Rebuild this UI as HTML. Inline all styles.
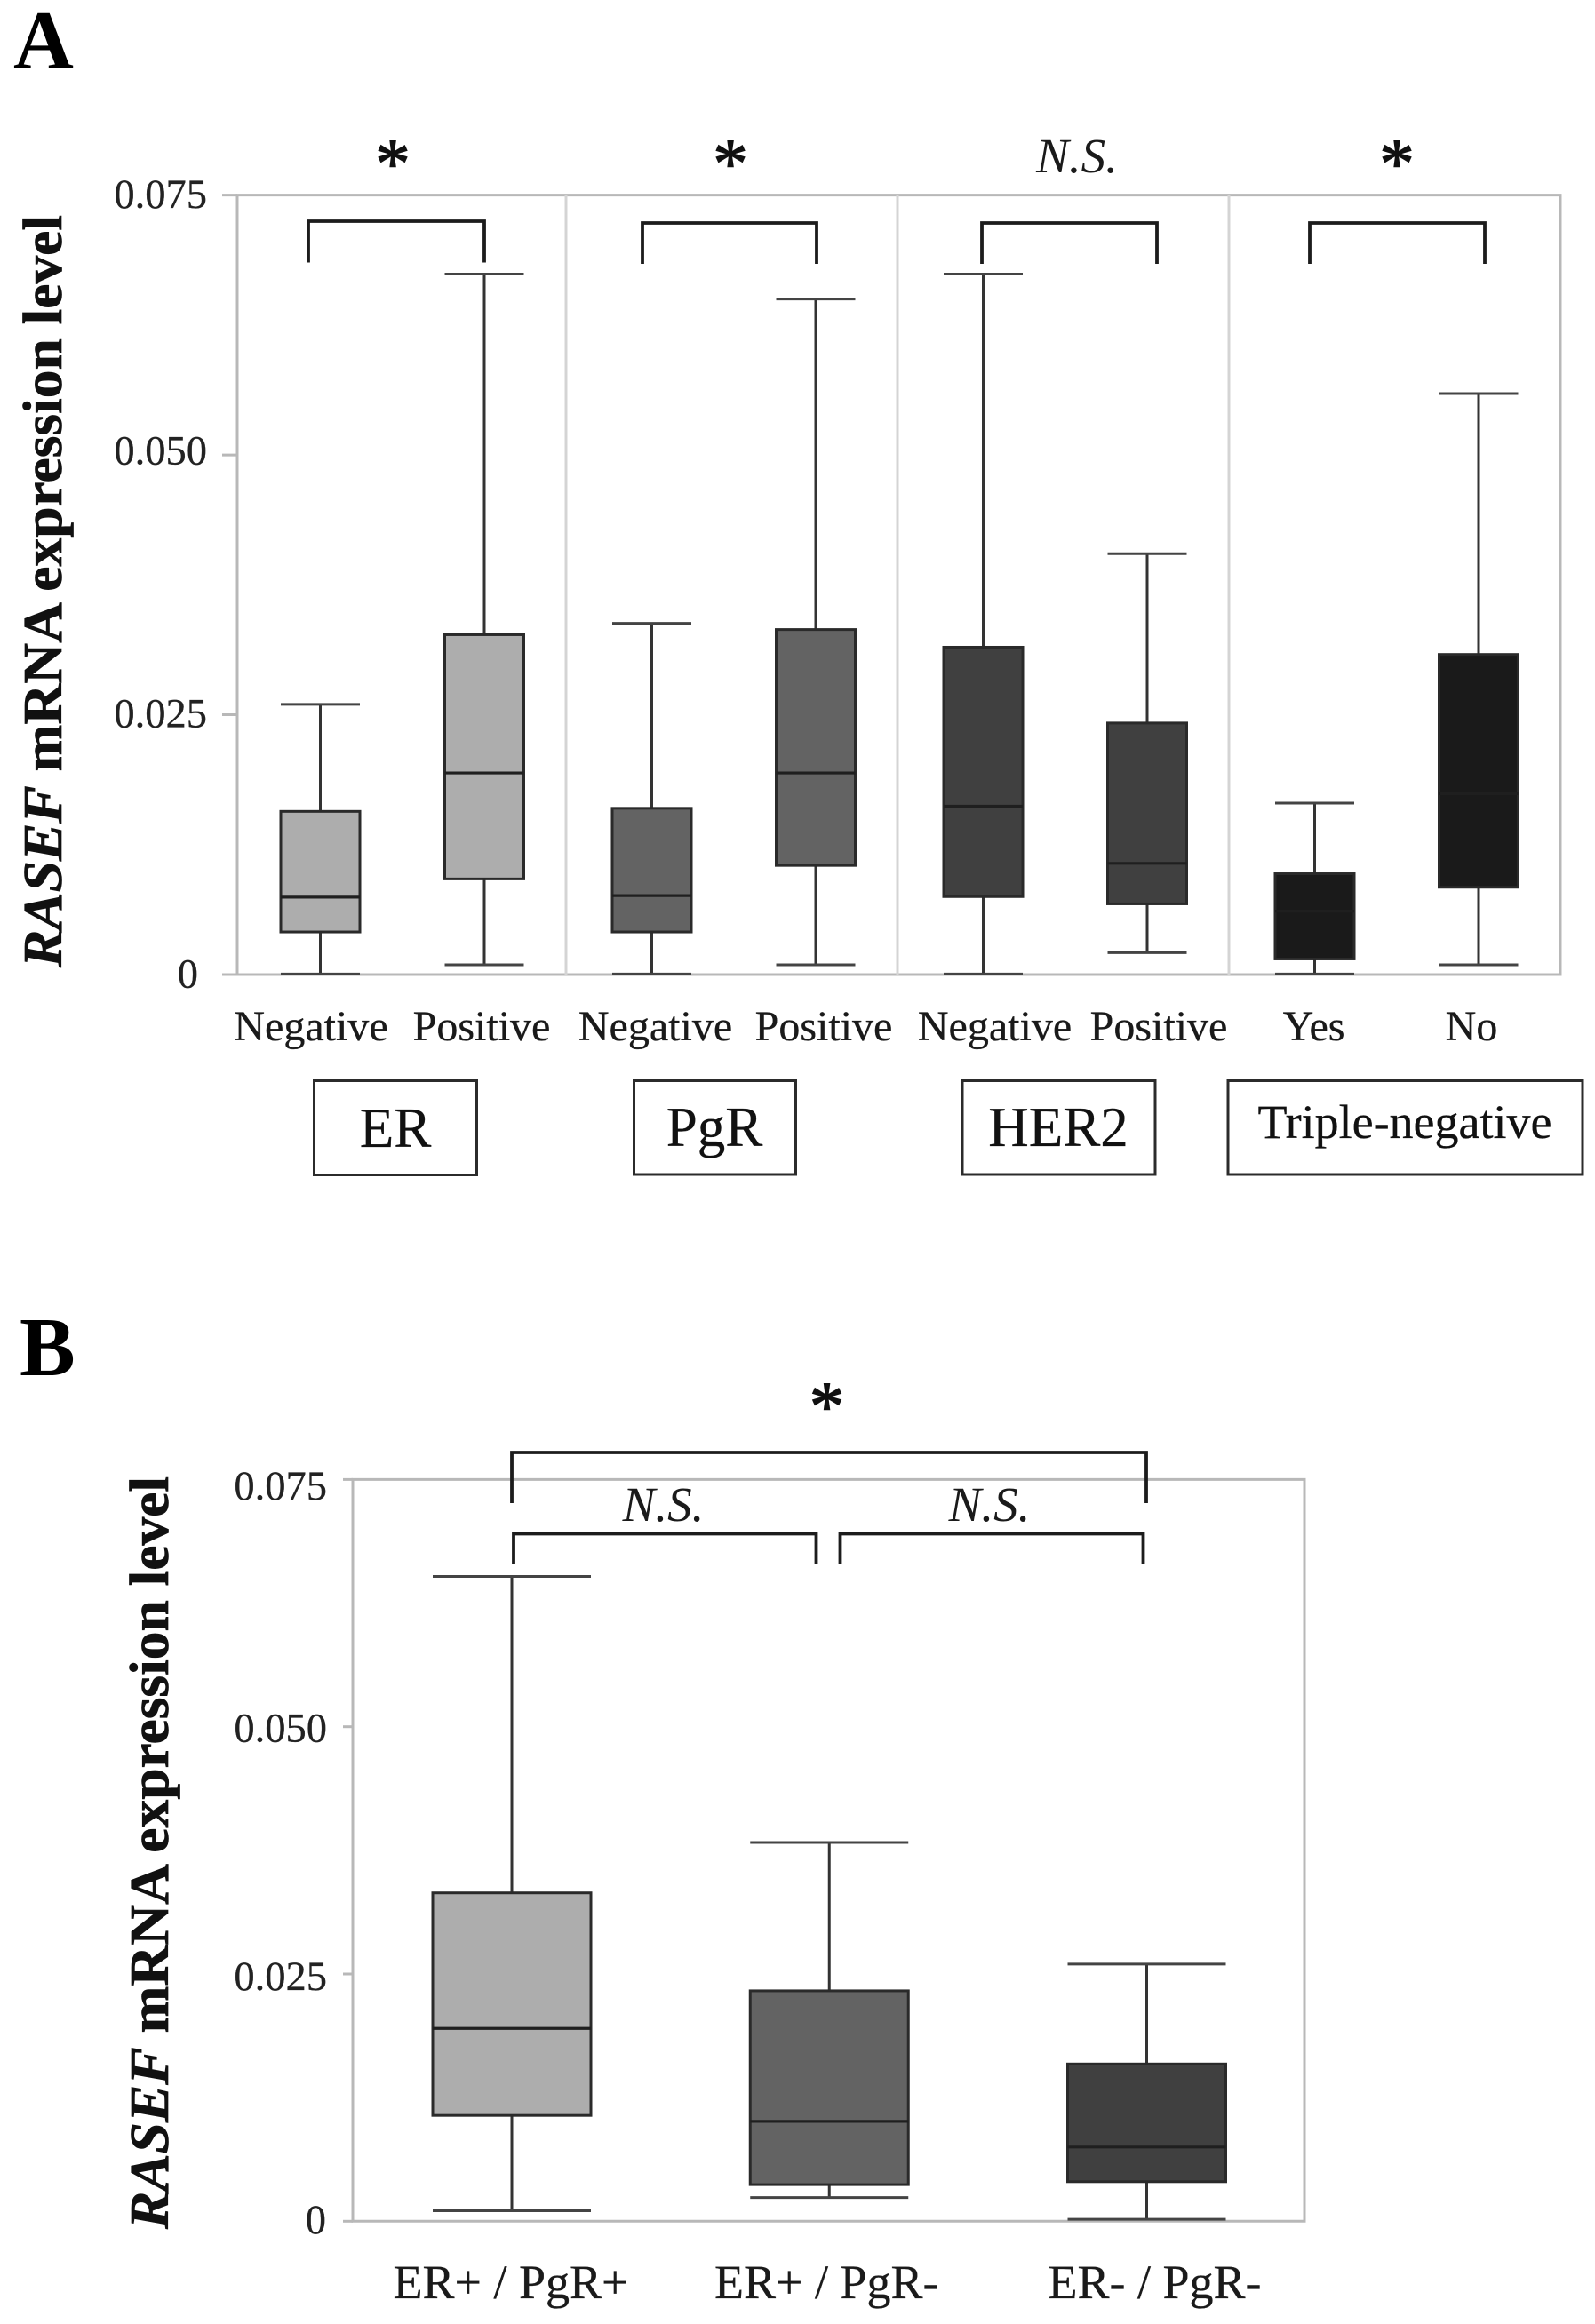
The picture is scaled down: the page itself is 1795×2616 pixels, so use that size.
<!DOCTYPE html>
<html lang="en">
<head>
<meta charset="utf-8">
<title>RASEF mRNA expression level box plots</title>
<style>
html,body{margin:0;padding:0;background:#fff;}
svg{display:block;}
text{font-family:"Liberation Serif",serif;fill:#151515;}
.tick{font-size:46.5px;fill:#222;stroke:#222;stroke-width:.25;}
.cat{font-size:48px;fill:#1a1a1a;text-anchor:middle;stroke:#1a1a1a;stroke-width:.3;}
.catb{font-size:54px;fill:#1a1a1a;text-anchor:middle;stroke:#1a1a1a;stroke-width:.3;}
.ylab{font-size:62.5px;font-weight:bold;fill:#111;stroke:#111;stroke-width:.7;}
.letter{font-size:94px;font-weight:bold;fill:#000;}
.ast{font-size:78px;text-anchor:middle;fill:#111;stroke:#111;stroke-width:1.4;}
.ns{font-size:55px;font-style:italic;text-anchor:middle;fill:#1a1a1a;}
.brk{fill:none;stroke:#1c1c1c;stroke-width:3.8;}
.grp{fill:#fff;stroke:#2b2b2b;stroke-width:3;}
.grpt{text-anchor:middle;fill:#111;stroke:#111;stroke-width:.3;}
</style>
</head>
<body>
<svg id="fig" xmlns="http://www.w3.org/2000/svg" width="1795" height="2616" viewBox="0 0 1795 2616">
  <rect x="0" y="0" width="1795" height="2616" fill="#ffffff"/>

  <text class="letter" x="15" y="77">A</text>
  <text class="letter" x="22" y="1548">B</text>

  <text class="ylab" transform="translate(69,1089) rotate(-90)" textLength="847" lengthAdjust="spacingAndGlyphs"><tspan font-style="italic">RASEF</tspan> mRNA expression level</text>
  <text class="ylab" transform="translate(189,2509) rotate(-90)" textLength="847" lengthAdjust="spacingAndGlyphs"><tspan font-style="italic">RASEF</tspan> mRNA expression level</text>

  <g id="panelA"></g>
  <g id="panelB"></g>

  <!-- Panel A significance annotations -->
  <text class="ast" x="442" y="210">*</text>
  <text class="ast" x="822" y="210">*</text>
  <text class="ns" x="1212" y="194">N.S.</text>
  <text class="ast" x="1572" y="210">*</text>
  <path class="brk" d="M347 295.5V249H545V295.5"/>
  <path class="brk" d="M723 297V251H919V297"/>
  <path class="brk" d="M1105 297V251H1302V297"/>
  <path class="brk" d="M1474 297V251H1671V297"/>

  <!-- Panel A group boxes -->
  <g>
    <rect class="grp" x="353.5" y="1216.5" width="183" height="106"/>
    <text class="grpt" x="445" y="1291" font-size="63">ER</text>
  </g>
  <g>
    <rect class="grp" x="713.5" y="1216.5" width="182" height="105.5"/>
    <text class="grpt" x="804" y="1290" font-size="63">PgR</text>
  </g>
  <g>
    <rect class="grp" x="1083" y="1216.5" width="217" height="105.5"/>
    <text class="grpt" x="1191" y="1290" font-size="63">HER2</text>
  </g>
  <g>
    <rect class="grp" x="1382" y="1216.5" width="399" height="105.5"/>
    <text class="grpt" x="1581" y="1281" font-size="54">Triple-negative</text>
  </g>

  <!-- Panel B significance annotations -->
  <text class="ast" x="930.5" y="1609">*</text>
  <text class="ns" x="746.5" y="1712">N.S.</text>
  <text class="ns" x="1113.5" y="1712">N.S.</text>
  <path class="brk" d="M576 1692V1635H1290V1692"/>
  <path class="brk" d="M578 1760V1726.5H918.5V1760"/>
  <path class="brk" d="M945.5 1760V1726.5H1286.5V1760"/>
</svg>

<script>
// ---- Panel A data ----
const aCategories = ["Negative","Positive","Negative","Positive","Negative","Positive","Yes","No"];
const aGroups = ["ER","ER","PgR","PgR","HER2","HER2","Triple-negative","Triple-negative"];
const aHigh   = [0.0260,0.0674,0.0338,0.0650,0.0674,0.0405,0.0165,0.0559];
const aQ3     = [0.0157,0.0327,0.0160,0.0332,0.0315,0.0242,0.0097,0.0308];
const aMedian = [0.00745,0.0194,0.0076,0.0194,0.0162,0.0107,0.0061,0.0174];
const aQ1     = [0.0041,0.0092,0.0041,0.0105,0.0075,0.0068,0.0015,0.0084];
const aLow    = [0.00005,0.00094,0.00005,0.00094,0.00005,0.0021,0.00005,0.00094];
const aFills  = ["#adadad","#adadad","#636363","#636363","#404040","#404040","#1a1a1a","#1a1a1a"];

// ---- Panel B data ----
const bCategories = ["ER+ / PgR+","ER+ / PgR-","ER- / PgR-"];
const bHigh   = [0.0652,0.0383,0.0260];
const bQ3     = [0.0332,0.0233,0.0159];
const bMedian = [0.0195,0.0101,0.0075];
const bQ1     = [0.0107,0.0037,0.0040];
const bLow    = [0.00106,0.0024,0.0002];
const bFills  = ["#adadad","#636363","#404040"];

// ---- Shared tick data ----
const tickValues = [0.075,0.05,0.025,0];
const tickLabels = ["0.075","0.050","0.025","0"];

const NS = "http://www.w3.org/2000/svg";
function mk(parent, tag, attrs) {
  const el = document.createElementNS(NS, tag);
  for (const k in attrs) el.setAttribute(k, attrs[k]);
  parent.appendChild(el);
  return el;
}
function slug(s) {
  return s.toLowerCase().replace(/\+/g, "-pos").replace(/[^a-z0-9]+/g, "-").replace(/-+$/, "");
}

function drawBox(parent, name, x, halfW, yScale, hi, q3, med, q1, lo, fill) {
  const g = mk(parent, "g", {});
  
  

  const stem = mk(g, "line", {x1:x, x2:x, y1:yScale(hi), y2:yScale(lo), stroke:"#333", "stroke-width":3});
  
  

  const capHi = mk(g, "line", {x1:x-halfW, x2:x+halfW, y1:yScale(hi), y2:yScale(hi), stroke:"#444", "stroke-width":3});
  
  

  const capLo = mk(g, "line", {x1:x-halfW, x2:x+halfW, y1:yScale(lo), y2:yScale(lo), stroke:"#444", "stroke-width":3});
  
  

  const rect = mk(g, "rect", {x:x-halfW, y:yScale(q3), width:halfW*2, height:yScale(q1)-yScale(q3), fill:fill, stroke:"#2a2a2a", "stroke-width":3});
  
  

  const medLine = mk(g, "line", {x1:x-halfW, x2:x+halfW, y1:yScale(med), y2:yScale(med), stroke:"#1f1f1f", "stroke-width":3.2});
  
  
}

function drawFrame(parent, left, right, top, bottom, tickLeft, yScale, labelRight, zeroRight, baselineDy, color) {
  const frame = mk(parent, "path", {d:`M${left} ${top}V${bottom}H${right}V${top}Z`, fill:"none", stroke:color, "stroke-width":3});
  
  
  tickValues.forEach((v, i) => {
    const tick = mk(parent, "line", {x1:tickLeft, x2:left, y1:yScale(v), y2:yScale(v), stroke:color, "stroke-width":3});
    
    
    const label = mk(parent, "text", {class:"tick", x:v === 0 ? zeroRight : labelRight, y:yScale(v) + baselineDy[i], "text-anchor":"end"});
    
    
    label.textContent = tickLabels[i];
  });
}

// ---- Panel A ----
(function () {
  const root = document.getElementById("panelA");
  const y0 = 1097, yTop = 219.6;
  const yA = v => y0 - v * (y0 - yTop) / 0.075;
  const xA = i => 360.5 + 373 * Math.floor(i / 2) + 184.5 * (i % 2);

  drawFrame(root, 267, 1756, yA(0.075), yA(0), 250, yA, 233, 223, [14.6, 10.5, 14, 14.6], "#b8b8b8");

  [637, 1010, 1383].forEach((dx, i) => {
    const d = mk(root, "line", {x1:dx, x2:dx, y1:yA(0.075), y2:yA(0), stroke:"#d4d4d4", "stroke-width":3});
    
    
  });

  aCategories.forEach((c, i) => {
    const name = slug(aGroups[i]) + '-' + slug(c);
    drawBox(root, name, xA(i), 44.5, yA, aHigh[i], aQ3[i], aMedian[i], aQ1[i], aLow[i], aFills[i]);
  });

  const labelNudge = [-10.5, -3, 4, 9, 13, 13, -1, -8];
  aCategories.forEach((c, i) => {
    const t = mk(root, "text", {class:"cat", x:xA(i) + labelNudge[i], y:1171});
    
    
    t.textContent = c;
  });
})();

// ---- Panel B ----
(function () {
  const root = document.getElementById("panelB");
  const y0 = 2500.3, yTop = 1665.4;
  const yB = v => y0 - v * (y0 - yTop) / 0.075;
  const xB = i => 576 + 357.25 * i;

  drawFrame(root, 397, 1468, yB(0.075), yB(0), 386, yB, 368, 367, [22.6, 17, 18, 13.7], "#b8b8b8");

  bCategories.forEach((c, i) => {
    drawBox(root, slug(c), xB(i), 89, yB, bHigh[i], bQ3[i], bMedian[i], bQ1[i], bLow[i], bFills[i]);
  });

  const labelNudge = [-1, -3, 9, 0];
  bCategories.forEach((c, i) => {
    const t = mk(root, "text", {class:"catb", x:xB(i) + labelNudge[i], y:2587});
    
    
    t.textContent = c;
  });
})();
</script>
</body>
</html>
